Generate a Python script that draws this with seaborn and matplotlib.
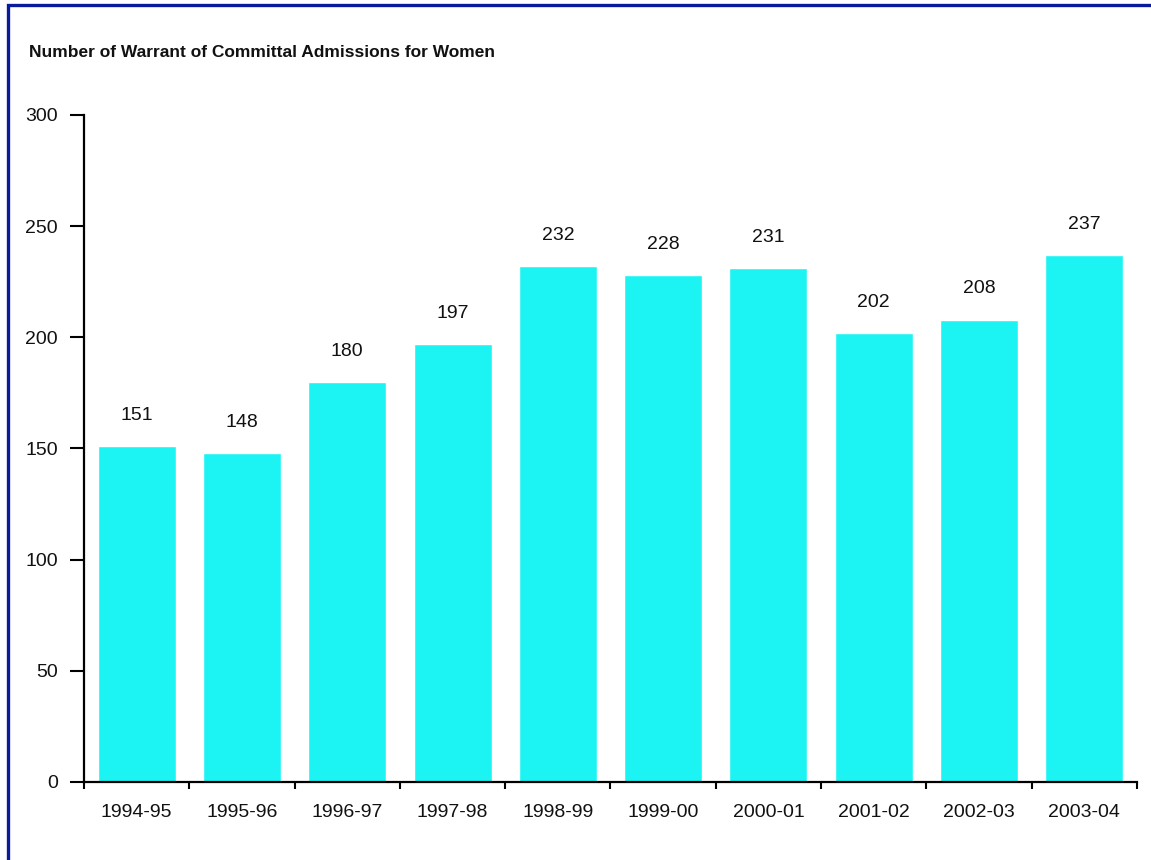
import matplotlib
matplotlib.use("Agg")
import matplotlib.pyplot as plt
import seaborn as sns
import pandas as pd
from matplotlib.patches import Rectangle

years = ["1994-95", "1995-96", "1996-97", "1997-98", "1998-99",
         "1999-00", "2000-01", "2001-02", "2002-03", "2003-04"]
admissions = [151, 148, 180, 197, 232, 228, 231, 202, 208, 237]
yticks = [0, 50, 100, 150, 200, 250, 300]
title = "Number of Warrant of Committal Admissions for Women"

sns.set_theme(style="white")
plt.rcParams["font.family"] = ["Liberation Sans", "DejaVu Sans"]

df = pd.DataFrame({"year": years, "admissions": admissions})

fig = plt.figure(figsize=(11.51, 8.6), dpi=100)
ax = fig.add_axes([0.073, 0.0907, 0.9148, 0.7756])

sns.barplot(data=df, x="year", y="admissions", color="#1cf4f4",
            saturation=1, width=0.74, ax=ax)

ax.set_xlim(-0.5, len(years) - 0.5)
ax.set_ylim(0, 300)
ax.set_xlabel("")
ax.set_ylabel("")

# boundary ticks between categories, labels centred under the bars
ax.set_xticks([i - 0.5 for i in range(len(years) + 1)])
ax.set_xticklabels([])
ax.set_xticks(range(len(years)), minor=True)
ax.set_xticklabels(years, minor=True, fontsize=14)
ax.tick_params(axis="x", which="major", direction="out", length=5, width=1.5,
               color="black", bottom=True)
ax.tick_params(axis="x", which="minor", length=0, pad=16, labelcolor="#111111")

ax.set_yticks(yticks)
ax.set_yticklabels([str(v) for v in yticks], fontsize=14)
ax.tick_params(axis="y", direction="out", length=10, width=1.5, color="black",
               left=True, pad=9, labelcolor="#111111")

for side in ["top", "right"]:
    ax.spines[side].set_visible(False)
for side in ["left", "bottom"]:
    ax.spines[side].set_color("black")
    ax.spines[side].set_linewidth(1.6)

ax.bar_label(ax.containers[0], labels=[str(v) for v in admissions],
             padding=16, fontsize=14, color="#111111")

fig.text(0.0252, 0.9395, title, fontsize=12.5, fontweight="bold",
         ha="left", va="center", color="#111111")

# frame around the chart area (open towards the right and bottom edges)
fig.add_artist(Rectangle((0.0069, -0.05), 1.05, 1.0442,
                         transform=fig.transFigure, fill=False,
                         edgecolor="#0a1a9c", linewidth=2.4))

fig.savefig("out.png", dpi=100)
